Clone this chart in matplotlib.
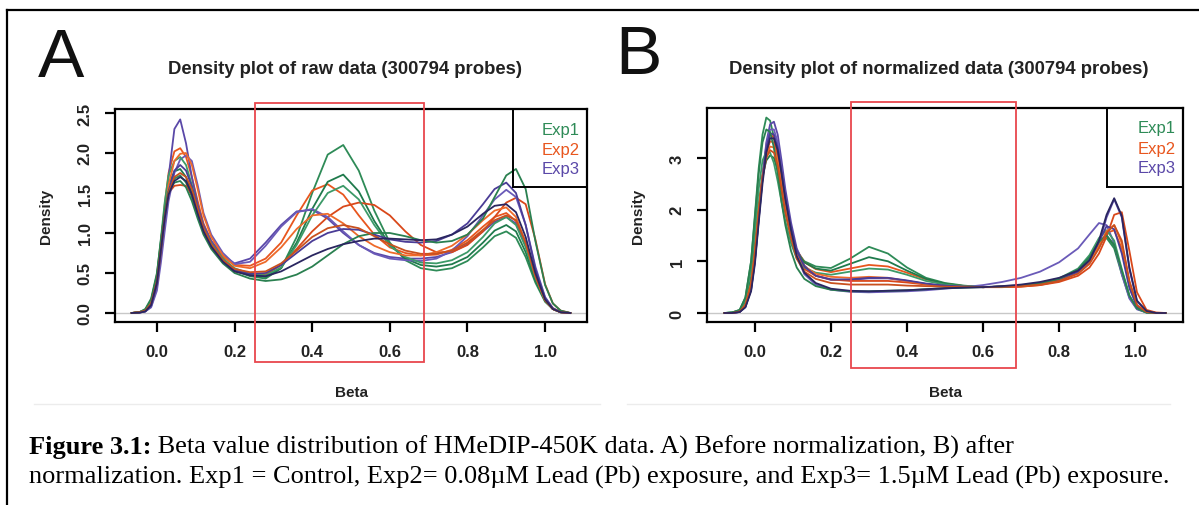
import matplotlib
matplotlib.use('Agg')
import matplotlib.pyplot as plt
from matplotlib.patches import Rectangle
from matplotlib.lines import Line2D

plt.rcParams['font.family'] = ['Liberation Sans', 'DejaVu Sans']

# ---------------- data ----------------
beta_raw = [-0.065, -0.045, -0.03, -0.015, 0.0, 0.01, 0.02, 0.03, 0.045, 0.06, 0.075, 0.09,
            0.105, 0.12, 0.14, 0.17, 0.20, 0.24, 0.28, 0.32, 0.36, 0.40, 0.44, 0.48, 0.52,
            0.56, 0.60, 0.64, 0.68, 0.72, 0.76, 0.80, 0.84, 0.87, 0.90, 0.925, 0.95, 0.975,
            1.0, 1.02, 1.04, 1.065]

raw_exp1 = [
    [0, 0.01, 0.04, 0.15, 0.45, 0.85, 1.25, 1.52, 1.68, 1.72, 1.63, 1.45, 1.22, 1.02, 0.85, 0.66, 0.53, 0.46, 0.43, 0.56, 0.95, 1.50, 1.98, 2.10, 1.78, 1.28, 0.88, 0.66, 0.56, 0.53, 0.56, 0.65, 0.82, 0.96, 1.02, 0.94, 0.70, 0.38, 0.14, 0.05, 0.01, 0.0],
    [0, 0.01, 0.04, 0.15, 0.45, 0.88, 1.30, 1.60, 1.77, 1.80, 1.70, 1.50, 1.25, 1.04, 0.86, 0.67, 0.54, 0.47, 0.45, 0.56, 0.88, 1.30, 1.64, 1.73, 1.52, 1.15, 0.85, 0.68, 0.60, 0.58, 0.61, 0.70, 0.88, 1.03, 1.10, 1.02, 0.76, 0.41, 0.15, 0.05, 0.01, 0.0],
    [0, 0.01, 0.04, 0.16, 0.48, 0.92, 1.38, 1.72, 1.90, 1.95, 1.85, 1.60, 1.30, 1.06, 0.87, 0.68, 0.56, 0.49, 0.47, 0.57, 0.85, 1.22, 1.50, 1.59, 1.42, 1.10, 0.84, 0.70, 0.63, 0.62, 0.66, 0.76, 0.95, 1.12, 1.20, 1.10, 0.82, 0.44, 0.16, 0.05, 0.01, 0.0],
    [0, 0.01, 0.05, 0.18, 0.50, 0.90, 1.28, 1.52, 1.63, 1.65, 1.57, 1.40, 1.18, 0.98, 0.80, 0.62, 0.50, 0.43, 0.40, 0.42, 0.48, 0.58, 0.72, 0.86, 0.96, 1.00, 1.00, 0.96, 0.91, 0.88, 0.90, 0.98, 1.18, 1.45, 1.72, 1.80, 1.55, 0.90, 0.35, 0.12, 0.03, 0.0],
]
raw_exp2 = [
    [0, 0.01, 0.03, 0.12, 0.40, 0.85, 1.35, 1.75, 2.02, 2.06, 1.95, 1.70, 1.40, 1.12, 0.90, 0.70, 0.60, 0.59, 0.68, 0.88, 1.22, 1.53, 1.61, 1.48, 1.22, 0.98, 0.82, 0.75, 0.72, 0.73, 0.79, 0.91, 1.08, 1.20, 1.25, 1.15, 0.85, 0.45, 0.16, 0.05, 0.01, 0.0],
    [0, 0.01, 0.03, 0.13, 0.42, 0.85, 1.25, 1.50, 1.59, 1.60, 1.59, 1.48, 1.25, 1.02, 0.82, 0.63, 0.52, 0.48, 0.48, 0.60, 0.80, 1.02, 1.20, 1.33, 1.38, 1.35, 1.22, 1.02, 0.85, 0.76, 0.76, 0.85, 1.02, 1.20, 1.38, 1.44, 1.36, 0.92, 0.36, 0.12, 0.03, 0.0],
    [0, 0.01, 0.03, 0.11, 0.36, 0.75, 1.20, 1.60, 1.90, 1.99, 2.00, 1.85, 1.55, 1.22, 0.95, 0.72, 0.59, 0.56, 0.64, 0.82, 1.05, 1.22, 1.24, 1.12, 0.96, 0.84, 0.76, 0.72, 0.72, 0.76, 0.84, 0.98, 1.16, 1.28, 1.32, 1.20, 0.88, 0.46, 0.16, 0.05, 0.01, 0.0],
    [0, 0.01, 0.03, 0.12, 0.40, 0.80, 1.20, 1.50, 1.70, 1.75, 1.70, 1.55, 1.30, 1.06, 0.86, 0.66, 0.55, 0.51, 0.52, 0.62, 0.78, 0.95, 1.06, 1.10, 1.06, 0.96, 0.86, 0.78, 0.74, 0.74, 0.78, 0.88, 1.04, 1.16, 1.22, 1.16, 0.88, 0.46, 0.16, 0.05, 0.01, 0.0],
]
raw_exp3 = [
    [0, 0.005, 0.02, 0.08, 0.32, 0.75, 1.25, 1.70, 2.30, 2.42, 2.12, 1.70, 1.35, 1.10, 0.90, 0.72, 0.62, 0.68, 0.88, 1.10, 1.27, 1.29, 1.18, 1.00, 0.85, 0.75, 0.70, 0.68, 0.68, 0.70, 0.76, 0.86, 1.02, 1.14, 1.20, 1.12, 0.85, 0.45, 0.16, 0.05, 0.01, 0.0],
    [0, 0.005, 0.02, 0.07, 0.28, 0.62, 1.02, 1.40, 1.75, 1.92, 1.97, 1.90, 1.60, 1.25, 0.98, 0.75, 0.61, 0.64, 0.84, 1.08, 1.26, 1.30, 1.20, 1.02, 0.85, 0.74, 0.68, 0.66, 0.65, 0.68, 0.78, 0.96, 1.22, 1.42, 1.54, 1.45, 1.10, 0.58, 0.20, 0.06, 0.01, 0.0],
    [0, 0.005, 0.02, 0.09, 0.35, 0.75, 1.18, 1.52, 1.78, 1.85, 1.78, 1.58, 1.30, 1.05, 0.85, 0.65, 0.53, 0.49, 0.50, 0.60, 0.75, 0.90, 1.00, 1.05, 1.04, 0.98, 0.92, 0.89, 0.88, 0.90, 0.98, 1.12, 1.36, 1.55, 1.63, 1.50, 1.10, 0.55, 0.19, 0.06, 0.01, 0.0],
    [0, 0.005, 0.02, 0.10, 0.38, 0.78, 1.18, 1.48, 1.65, 1.70, 1.65, 1.48, 1.24, 1.02, 0.83, 0.64, 0.52, 0.47, 0.46, 0.52, 0.62, 0.72, 0.80, 0.86, 0.90, 0.93, 0.93, 0.92, 0.91, 0.92, 0.98, 1.08, 1.24, 1.34, 1.36, 1.26, 0.95, 0.50, 0.17, 0.05, 0.01, 0.0],
]

beta_norm = [-0.08, -0.06, -0.04, -0.025, -0.01, 0.0, 0.01, 0.02, 0.03, 0.04, 0.05, 0.06,
             0.07, 0.08, 0.095, 0.11, 0.13, 0.16, 0.20, 0.25, 0.30, 0.35, 0.40, 0.45, 0.50,
             0.55, 0.60, 0.65, 0.70, 0.75, 0.80, 0.85, 0.88, 0.905, 0.925, 0.945, 0.965,
             0.985, 1.005, 1.03, 1.055, 1.08]

norm_exp1 = [
    [0, 0.01, 0.06, 0.30, 1.00, 1.90, 2.80, 3.45, 3.78, 3.72, 3.40, 2.90, 2.40, 1.95, 1.50, 1.20, 1.00, 0.90, 0.87, 1.05, 1.28, 1.15, 0.88, 0.68, 0.58, 0.53, 0.50, 0.51, 0.53, 0.57, 0.65, 0.82, 1.05, 1.35, 1.45, 1.25, 0.75, 0.30, 0.08, 0.01, 0.0, 0.0],
    [0, 0.01, 0.04, 0.20, 0.70, 1.35, 2.10, 2.65, 2.95, 3.05, 3.00, 2.75, 2.35, 1.95, 1.50, 1.18, 0.98, 0.86, 0.82, 0.95, 1.08, 1.00, 0.82, 0.66, 0.57, 0.52, 0.50, 0.51, 0.53, 0.57, 0.66, 0.84, 1.08, 1.38, 1.50, 1.30, 0.80, 0.32, 0.09, 0.01, 0.0, 0.0],
    [0, 0.01, 0.05, 0.25, 0.85, 1.60, 2.40, 2.95, 3.12, 3.10, 2.90, 2.55, 2.15, 1.78, 1.35, 1.05, 0.88, 0.78, 0.74, 0.80, 0.86, 0.84, 0.74, 0.62, 0.55, 0.52, 0.50, 0.51, 0.53, 0.58, 0.67, 0.86, 1.12, 1.45, 1.60, 1.40, 0.85, 0.34, 0.09, 0.01, 0.0, 0.0],
    [0, 0.01, 0.06, 0.30, 1.00, 1.85, 2.70, 3.30, 3.55, 3.50, 3.20, 2.70, 2.15, 1.70, 1.20, 0.88, 0.66, 0.52, 0.45, 0.42, 0.42, 0.43, 0.44, 0.46, 0.48, 0.49, 0.50, 0.51, 0.53, 0.57, 0.66, 0.84, 1.08, 1.38, 1.50, 1.32, 0.82, 0.33, 0.09, 0.01, 0.0, 0.0],
]
norm_exp2 = [
    [0, 0.0, 0.03, 0.15, 0.55, 1.15, 1.95, 2.65, 3.10, 3.32, 3.30, 3.05, 2.60, 2.10, 1.60, 1.22, 0.98, 0.85, 0.79, 0.86, 0.93, 0.90, 0.78, 0.65, 0.56, 0.52, 0.50, 0.50, 0.51, 0.54, 0.62, 0.78, 0.98, 1.28, 1.55, 1.60, 1.25, 0.55, 0.14, 0.02, 0.0, 0.0],
    [0, 0.0, 0.03, 0.14, 0.52, 1.10, 1.90, 2.65, 3.20, 3.45, 3.40, 3.10, 2.60, 2.05, 1.50, 1.10, 0.85, 0.72, 0.65, 0.62, 0.62, 0.62, 0.59, 0.55, 0.52, 0.51, 0.50, 0.50, 0.51, 0.54, 0.60, 0.72, 0.88, 1.15, 1.48, 1.90, 1.95, 1.20, 0.40, 0.06, 0.01, 0.0],
    [0, 0.0, 0.03, 0.16, 0.58, 1.20, 2.00, 2.65, 3.05, 3.22, 3.20, 2.95, 2.50, 2.05, 1.55, 1.15, 0.90, 0.76, 0.70, 0.68, 0.70, 0.68, 0.62, 0.56, 0.52, 0.51, 0.50, 0.51, 0.52, 0.56, 0.64, 0.80, 1.00, 1.30, 1.58, 1.70, 1.35, 0.60, 0.15, 0.02, 0.0, 0.0],
    [0, 0.0, 0.03, 0.15, 0.55, 1.15, 1.95, 2.60, 3.00, 3.15, 3.10, 2.85, 2.40, 1.95, 1.45, 1.05, 0.80, 0.66, 0.58, 0.55, 0.55, 0.55, 0.53, 0.52, 0.51, 0.50, 0.50, 0.51, 0.52, 0.55, 0.62, 0.76, 0.95, 1.25, 1.55, 1.70, 1.40, 0.62, 0.15, 0.02, 0.0, 0.0],
]
norm_exp3 = [
    [0, 0.0, 0.02, 0.12, 0.45, 1.00, 1.80, 2.60, 3.30, 3.65, 3.70, 3.45, 2.95, 2.40, 1.75, 1.25, 0.92, 0.72, 0.64, 0.64, 0.67, 0.67, 0.62, 0.56, 0.52, 0.51, 0.50, 0.51, 0.53, 0.57, 0.64, 0.78, 0.98, 1.35, 1.85, 2.20, 1.85, 0.85, 0.22, 0.04, 0.0, 0.0],
    [0, 0.0, 0.02, 0.12, 0.48, 1.05, 1.85, 2.65, 3.25, 3.55, 3.55, 3.30, 2.80, 2.25, 1.60, 1.10, 0.75, 0.55, 0.45, 0.41, 0.40, 0.41, 0.42, 0.44, 0.47, 0.50, 0.54, 0.60, 0.68, 0.80, 0.98, 1.25, 1.52, 1.74, 1.70, 1.35, 0.75, 0.28, 0.07, 0.01, 0.0, 0.0],
    [0, 0.0, 0.02, 0.12, 0.46, 1.02, 1.82, 2.60, 3.20, 3.48, 3.45, 3.20, 2.75, 2.25, 1.65, 1.20, 0.90, 0.72, 0.65, 0.65, 0.68, 0.68, 0.63, 0.57, 0.53, 0.51, 0.50, 0.51, 0.53, 0.57, 0.65, 0.80, 1.02, 1.38, 1.68, 1.62, 1.15, 0.48, 0.12, 0.02, 0.0, 0.0],
    [0, 0.0, 0.02, 0.11, 0.42, 0.95, 1.75, 2.50, 3.10, 3.38, 3.38, 3.15, 2.70, 2.20, 1.60, 1.10, 0.78, 0.58, 0.47, 0.43, 0.42, 0.43, 0.44, 0.46, 0.48, 0.49, 0.50, 0.52, 0.55, 0.60, 0.68, 0.82, 1.02, 1.40, 1.90, 2.22, 1.88, 0.88, 0.24, 0.04, 0.0, 0.0],
]

legend_labels = ['Exp1', 'Exp2', 'Exp3']
x_ticks = [0.0, 0.2, 0.4, 0.6, 0.8, 1.0]
raw_yticks = [0.0, 0.5, 1.0, 1.5, 2.0, 2.5]
norm_yticks = [0, 1, 2, 3]
region_box = (0.252, 0.688)   # beta window marked in red

titles = ['Density plot of raw data (300794 probes)',
          'Density plot of normalized data (300794 probes)']
caption_bold = 'Figure 3.1:'
caption_line1 = ' Beta value distribution of HMeDIP-450K data. A) Before normalization, B) after'
caption_line2 = ('normalization. Exp1 = Control, Exp2= 0.08\u00b5M Lead (Pb) exposure, '
                 'and Exp3= 1.5\u00b5M Lead (Pb) exposure.')

# ---------------- styles ----------------
group_colors = {
    0: ['#2e8b57', '#1f7a4c', '#3c9a68', '#2a8050'],
    1: ['#e8561e', '#d9481a', '#ee6a2a', '#c9501e'],
    2: ['#5a48a8', '#6a5ab8', '#4a3c96', '#2a2660'],
}
label_colors = ['#2e8b57', '#e8561e', '#5a48a8']

W, H = 1199, 506
fig = plt.figure(figsize=(W / 100, H / 100), dpi=100)
fig.patch.set_facecolor('white')


def fx(px):
    return px / W


def fy(py):
    return 1 - py / H


# outer frame lines
fig.add_artist(Line2D([fx(7), fx(7)], [fy(11), 0], color='black', lw=1.6))
fig.add_artist(Line2D([fx(7), 1], [fy(11), fy(11)], color='black', lw=1.6))
# faint panel image edges
fig.add_artist(Line2D([fx(34), fx(600)], [fy(405), fy(405)], color='#ececec', lw=1.0))
fig.add_artist(Line2D([fx(627), fx(1170)], [fy(405), fy(405)], color='#ececec', lw=1.0))

panels = [
    dict(rect=(115, 110, 587, 323), x=beta_raw, series=[raw_exp1, raw_exp2, raw_exp3],
         xlim=(-0.108, 1.108), ylim=(-0.1125, 2.55), yticks=raw_yticks,
         ytl=['%.1f' % v for v in raw_yticks], box_y=(2.625, -0.61),
         leg=(0.843, 0.634), title_x=345, letter='A', letter_x=38, letter_y=77),
    dict(rect=(707, 109, 1183, 323), x=beta_norm, series=[norm_exp1, norm_exp2, norm_exp3],
         xlim=(-0.126, 1.126), ylim=(-0.174, 3.965), yticks=norm_yticks,
         ytl=['%d' % v for v in norm_yticks], box_y=(4.08, -1.06),
         leg=(0.840, 0.631), title_x=939, letter='B', letter_x=615, letter_y=74),
]

for k, p in enumerate(panels):
    l, t, r, b = p['rect']
    ax = fig.add_axes([fx(l), fy(b), fx(r) - fx(l), fy(t) - fy(b)])
    ax.set_xlim(*p['xlim'])
    ax.set_ylim(*p['ylim'])
    ax.axhline(0, color='#c8c8c8', lw=1.0, zorder=1)
    order = [(0, 0), (1, 0), (2, 0), (0, 1), (1, 1), (2, 1), (0, 2), (1, 2), (2, 2), (0, 3), (1, 3), (2, 3)]
    for g, i in order:
        ax.plot(p['x'], p['series'][g][i], color=group_colors[g][i], lw=1.3, zorder=2,
                solid_joinstyle='round')
    for s in ax.spines.values():
        s.set_linewidth(1.6)
    ax.set_xticks(x_ticks)
    ax.set_xticklabels(['%.1f' % v for v in x_ticks])
    ax.set_yticks(p['yticks'])
    ax.set_yticklabels(p['ytl'], rotation=90, va='center')
    ax.tick_params(direction='out', length=7, width=1.6, pad=9, labelsize=12)
    for lab in ax.get_xticklabels() + ax.get_yticklabels():
        lab.set_fontweight('bold')
        lab.set_color('#222222')
    ax.set_xlabel('Beta', fontsize=11, fontweight='bold', color='#222222')
    ax.set_ylabel('Density', fontsize=11, fontweight='bold', color='#222222')
    ax.xaxis.set_label_coords(0.5, -0.296)
    ax.yaxis.set_label_coords(-0.131, 0.5)
    # red window
    x0, x1 = region_box
    y0, y1 = p['box_y']
    ax.add_patch(Rectangle((x0, y1), x1 - x0, y0 - y1, fill=False, edgecolor='#e8474d',
                           lw=1.3, clip_on=False, zorder=5))
    # legend box
    lx, ly = p['leg']
    ax.add_line(Line2D([lx, lx], [ly, 1], transform=ax.transAxes, color='black', lw=1.4))
    ax.add_line(Line2D([lx, 1], [ly, ly], transform=ax.transAxes, color='black', lw=1.4))
    ax_h = b - t
    for j, lab in enumerate(legend_labels):
        ypx = [131, 151, 170][j] if k == 0 else [129, 150, 169][j]
        ax.text(1 - 7 / (r - l), (b - ypx) / ax_h, lab, transform=ax.transAxes,
                ha='right', va='center', fontsize=12, color=label_colors[j])
    fig.text(fx(p['title_x']), fy(70), titles[k], ha='center', va='center',
             fontsize=13.3, fontweight='bold', color='#222222')
    fig.text(fx(p['letter_x']), fy(p['letter_y']), p['letter'], ha='left', va='baseline',
             fontsize=50, color='#111111')

# caption
fig.canvas.draw()
renderer = fig.canvas.get_renderer()
cap_font = ['Liberation Serif', 'DejaVu Serif']
cap_size = 19
tb = fig.text(fx(29), fy(454), caption_bold, ha='left', va='baseline', fontsize=cap_size,
              fontweight='bold', family=cap_font)
bb = tb.get_window_extent(renderer=renderer)
fig.text(bb.x1 / W, fy(454), caption_line1, ha='left', va='baseline', fontsize=cap_size,
         family=cap_font)
fig.text(fx(29), fy(484), caption_line2, ha='left', va='baseline', fontsize=cap_size,
         family=cap_font)

fig.savefig('out.png', dpi=100)
